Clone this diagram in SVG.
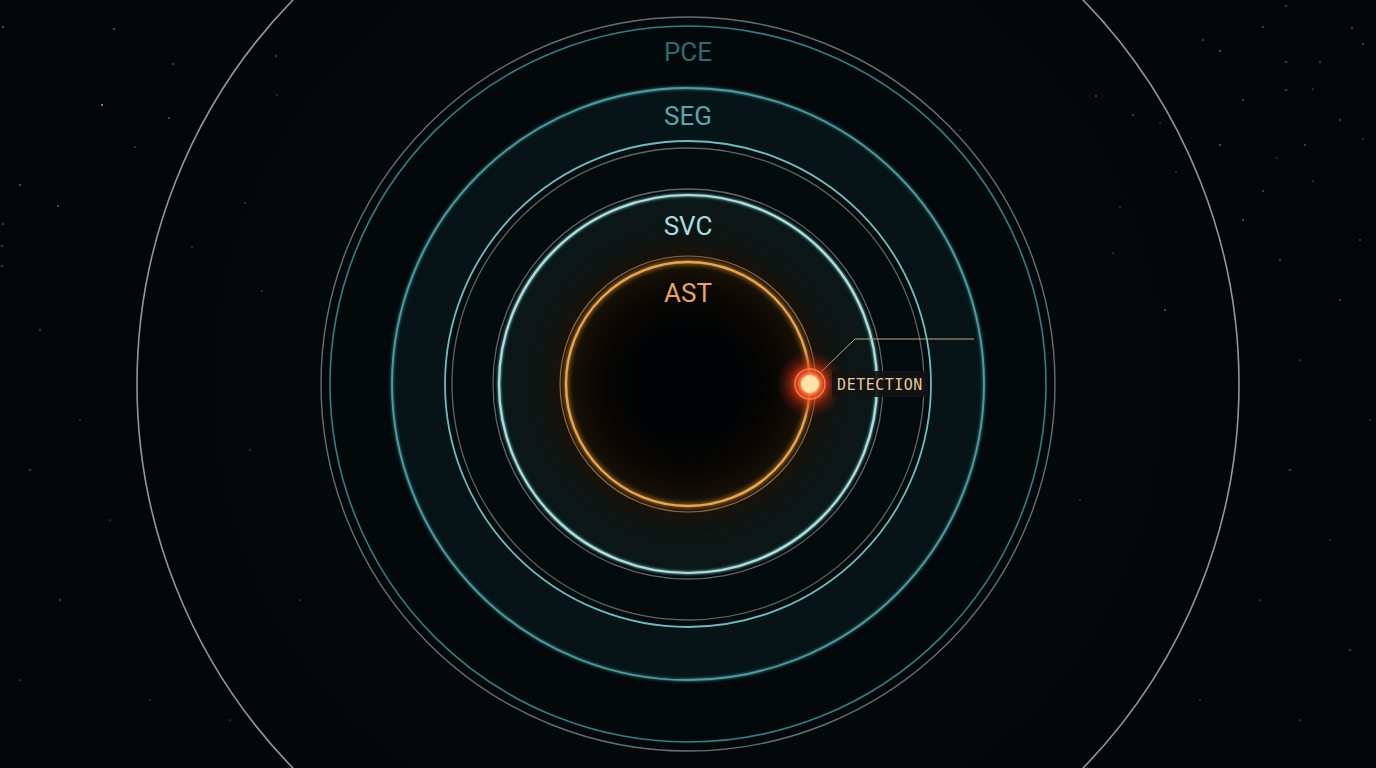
<svg xmlns="http://www.w3.org/2000/svg" width="1376" height="768" viewBox="0 0 1376 768">
<defs>
<style>
.lbl{font-family:Roboto,"Liberation Sans",sans-serif;font-size:26px;text-anchor:middle}
.star{fill:#9aa4a8}
.ring{fill:none}
</style>
<radialGradient id="bg" cx="688" cy="384" r="800" gradientUnits="userSpaceOnUse">
<stop offset="0" stop-color="#060d0f"/>
<stop offset="0.5" stop-color="#04080a"/>
<stop offset="1" stop-color="#030507"/>
</radialGradient>
<radialGradient id="core" cx="688" cy="384" r="189" gradientUnits="userSpaceOnUse">
<stop offset="0" stop-color="#010203"/>
<stop offset="0.3" stop-color="#020304"/>
<stop offset="0.45" stop-color="#070604"/>
<stop offset="0.58" stop-color="#120d06"/>
<stop offset="0.645" stop-color="#1c1409"/>
<stop offset="0.69" stop-color="#16120b"/>
<stop offset="0.78" stop-color="#0e1412"/>
<stop offset="1" stop-color="#0a1819"/>
</radialGradient>
<radialGradient id="dotglow" cx="810" cy="384" r="34" gradientUnits="userSpaceOnUse">
<stop offset="0" stop-color="#ff8a3a" stop-opacity="1"/>
<stop offset="0.35" stop-color="#ff4e1c" stop-opacity="0.9"/>
<stop offset="0.65" stop-color="#c42c10" stop-opacity="0.4"/>
<stop offset="1" stop-color="#801808" stop-opacity="0"/>
</radialGradient>
<filter id="glow" x="-20%" y="-20%" width="140%" height="140%">
<feGaussianBlur stdDeviation="2.5" result="b"/>
<feMerge><feMergeNode in="b"/><feMergeNode in="SourceGraphic"/></feMerge>
</filter>
<filter id="softglow" x="-20%" y="-20%" width="140%" height="140%">
<feGaussianBlur stdDeviation="1.5" result="b"/>
<feMerge><feMergeNode in="b"/><feMergeNode in="SourceGraphic"/></feMerge>
</filter>
</defs>
<rect width="1376" height="768" fill="url(#bg)"/>
<g id="stars">
<circle class="star" cx="3" cy="27" r="0.8"/><circle class="star" cx="114" cy="29" r="0.8"/><circle class="star" cx="173" cy="64" r="0.7"/><circle class="star" cx="102" cy="105" r="1"/><circle class="star" cx="169" cy="118" r="0.7"/><circle class="star" cx="135" cy="147" r="0.6"/><circle class="star" cx="20" cy="185" r="0.8"/><circle class="star" cx="58" cy="206" r="0.8"/><circle class="star" cx="3" cy="224" r="0.7"/><circle class="star" cx="2" cy="246" r="0.7"/><circle class="star" cx="2" cy="266" r="0.7"/><circle class="star" cx="276" cy="56" r="0.7"/><circle class="star" cx="277" cy="95" r="0.6"/><circle class="star" cx="245" cy="203" r="0.6"/><circle class="star" cx="192" cy="247" r="0.6"/><circle class="star" cx="262" cy="291" r="0.6"/><circle class="star" cx="40" cy="330" r="0.7"/><circle class="star" cx="80" cy="420" r="0.6"/><circle class="star" cx="30" cy="470" r="0.7"/><circle class="star" cx="110" cy="520" r="0.6"/><circle class="star" cx="60" cy="600" r="0.7"/><circle class="star" cx="20" cy="680" r="0.6"/><circle class="star" cx="150" cy="700" r="0.6"/><circle class="star" cx="230" cy="720" r="0.6"/>
<circle class="star" cx="1104" cy="22" r="0.7"/><circle class="star" cx="1096" cy="96" r="0.7"/><circle class="star" cx="1133" cy="115" r="0.7"/><circle class="star" cx="1220" cy="51" r="0.8"/><circle class="star" cx="1203" cy="40" r="0.7"/><circle class="star" cx="1286" cy="6" r="0.7"/><circle class="star" cx="1263" cy="27" r="0.7"/><circle class="star" cx="1286" cy="62" r="0.7"/><circle class="star" cx="1352" cy="28" r="0.7"/><circle class="star" cx="1363" cy="44" r="0.7"/><circle class="star" cx="1286" cy="90" r="0.7"/><circle class="star" cx="1320" cy="62" r="0.7"/><circle class="star" cx="1220" cy="145" r="0.8"/><circle class="star" cx="1243" cy="100" r="0.7"/><circle class="star" cx="1313" cy="89" r="0.6"/><circle class="star" cx="1340" cy="120" r="0.7"/><circle class="star" cx="1363" cy="139" r="0.6"/><circle class="star" cx="1277" cy="158" r="0.6"/><circle class="star" cx="1305" cy="145" r="0.7"/><circle class="star" cx="1263" cy="191" r="0.7"/><circle class="star" cx="1243" cy="220" r="0.8"/><circle class="star" cx="1313" cy="181" r="0.6"/><circle class="star" cx="1360" cy="240" r="0.7"/><circle class="star" cx="1120" cy="207" r="0.6"/><circle class="star" cx="1113" cy="253" r="0.6"/><circle class="star" cx="1176" cy="172" r="0.6"/><circle class="star" cx="1160" cy="123" r="0.6"/><circle class="star" cx="1280" cy="260" r="0.7"/><circle class="star" cx="1340" cy="300" r="0.7"/><circle class="star" cx="1300" cy="360" r="0.6"/><circle class="star" cx="1370" cy="420" r="0.6"/><circle class="star" cx="1290" cy="470" r="0.7"/><circle class="star" cx="1330" cy="540" r="0.6"/><circle class="star" cx="1260" cy="600" r="0.6"/><circle class="star" cx="1350" cy="650" r="0.7"/><circle class="star" cx="1200" cy="700" r="0.6"/><circle class="star" cx="1300" cy="720" r="0.6"/>
<circle class="star" cx="960" cy="130" r="0.6"/><circle class="star" cx="1000" cy="300" r="0.6"/><circle class="star" cx="1165" cy="310" r="0.8"/><circle class="star" cx="400" cy="200" r="0.6"/><circle class="star" cx="250" cy="450" r="0.6"/><circle class="star" cx="1080" cy="500" r="0.6"/><circle class="star" cx="300" cy="600" r="0.6"/>
</g>
<g id="PCE">
<circle class="ring" cx="688" cy="384" r="551" stroke="#b4bcbc" stroke-opacity="0.8" stroke-width="1.6"/>
<circle cx="688" cy="384" r="367" fill="#03090b" stroke="#8c9c9c" stroke-opacity="0.7" stroke-width="1.4"/>
<circle class="ring" cx="688" cy="384" r="358" stroke="#2f7f86" stroke-width="1.6"/>
<text class="lbl" x="688" y="61" fill="#2c6c72">PCE</text>
</g>
<g id="SEG">
<circle cx="688" cy="384" r="296" fill="#061417"/>
<circle class="ring" cx="688" cy="384" r="296" stroke="#4a9ea6" stroke-width="1.8" filter="url(#softglow)"/>
<circle cx="688" cy="384" r="243" fill="#040b0d" stroke="#6cbcc4" stroke-width="1.8"/>
<circle class="ring" cx="688" cy="384" r="236" stroke="#586868" stroke-width="1.3"/>
<text class="lbl" x="688" y="125" fill="#5aa6ac">SEG</text>
</g>
<g id="SVC">
<circle class="ring" cx="688" cy="384" r="195" stroke="#5c6868" stroke-width="1.3"/>
<circle cx="688" cy="384" r="189" fill="url(#core)"/>
<circle class="ring" cx="688" cy="384" r="189" stroke="#a6e2e4" stroke-width="2.2" filter="url(#softglow)"/>
<text class="lbl" x="688" y="235" fill="#a8dcdc">SVC</text>
</g>
<g id="AST">
<circle class="ring" cx="688" cy="384" r="128" stroke="#8a6a40" stroke-width="1.2"/>
<circle class="ring" cx="688" cy="384" r="122" stroke="#f0a448" stroke-width="2.4" filter="url(#glow)"/>
<text class="lbl" x="688" y="302" fill="#eba55a">AST</text>
</g>
<g id="connectors">
<polyline points="821,372 855,339 974,339" fill="none" stroke="#c0a880" stroke-width="1"/>
</g>
<g id="DETECTION">
<circle cx="810" cy="384" r="34" fill="url(#dotglow)"/>
<circle cx="810" cy="384" r="15" fill="none" stroke="#ff8a50" stroke-opacity="0.8" stroke-width="1.5"/>
<circle cx="810" cy="384" r="9" fill="#ffe2a8" filter="url(#glow)"/>
<rect x="832" y="371" width="96" height="26" fill="#121413" fill-opacity="0.92"/>
<text x="880" y="390" font-family="'DejaVu Sans Mono','Liberation Mono',monospace" font-size="15" letter-spacing="0.5" text-anchor="middle" fill="#e8c99c">DETECTION</text>
</g>
</svg>
